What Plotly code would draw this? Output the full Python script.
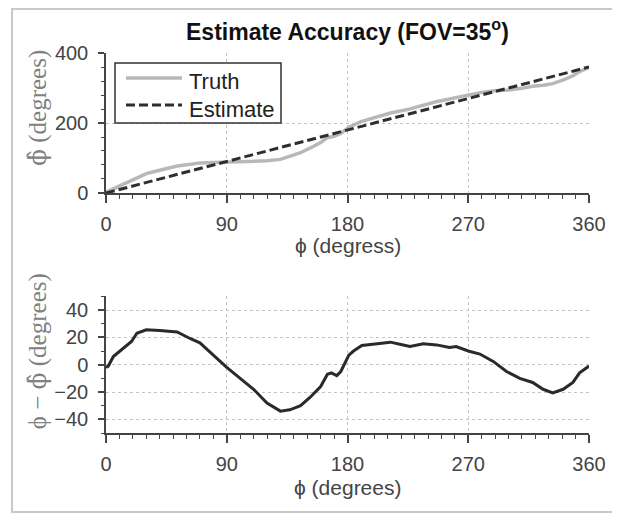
import plotly.graph_objects as go

# ---------------- data ----------------
phi_truth = [0, 5, 13, 20, 30, 40, 53, 63, 70, 80, 90, 100, 110, 120, 130, 137, 145,
             152, 160, 165, 170, 175, 181, 190, 199, 212, 226, 236, 246, 256, 270,
             280, 290, 300, 310, 318, 326, 333, 341, 348, 353, 358, 360]
truth = [2, 11, 25, 39, 55.5, 65, 77, 82, 86, 87, 88, 90, 92, 92, 96, 104, 115,
         128, 144, 158, 162, 170, 188, 204, 214, 228.5, 239.5, 251, 260.5, 268.5, 280,
         287.5, 292, 294, 299, 305, 308, 312.4, 323, 335, 347, 356, 359]

phi_est = [0, 360]
estimate = [0, 360]

phi_err = [0, 1.7, 5.5, 13, 19, 23, 30, 40, 53, 63, 70, 80, 90, 100, 110, 120, 130,
           137, 145, 152, 160, 165, 168, 172, 175, 181, 184.5, 190.7, 199, 212, 219,
           226.6, 236.5, 246.4, 256, 261, 270, 278.7, 288.6, 298.5, 308.4, 318, 325.8,
           333, 340.7, 348, 353, 358, 360]
err = [-2, -1, 6, 12, 17, 23, 25.5, 25, 24, 19, 16, 7, -2, -10, -18, -28, -34,
       -33, -30, -24, -16, -7, -6, -8, -5, 7, 10, 14, 15, 16.5, 15,
       13.3, 15.3, 14.5, 12.6, 13.3, 10, 7.8, 2.4, -5, -10, -13, -18,
       -20.6, -18, -13, -6, -2, -1]

x_ticks = [0, 90, 180, 270, 360]
y1_ticks = [0, 200, 400]
y2_ticks = [-40, -20, 0, 20, 40]

# ---------------- figure ----------------
SANS = "Liberation Sans, Arial, sans-serif"
SERIF = "Liberation Serif, DejaVu Serif, serif"
AX = "#444444"
TRUTH_C = "#b8b8b8"
EST_C = "#2e2e2e"
EST_DASH = "9px,4px"

fig = go.Figure()
fig.add_trace(go.Scatter(x=phi_truth, y=truth, mode="lines", name="Truth",
                         line=dict(color=TRUTH_C, width=3.5),
                         xaxis="x", yaxis="y", showlegend=False))
fig.add_trace(go.Scatter(x=phi_est, y=estimate, mode="lines", name="Estimate",
                         line=dict(color=EST_C, width=3, dash=EST_DASH),
                         xaxis="x", yaxis="y", showlegend=False))
fig.add_trace(go.Scatter(x=phi_err, y=err, mode="lines", name="Error",
                         showlegend=False,
                         line=dict(color="#2a2a2a", width=3),
                         xaxis="x2", yaxis="y2"))


def axis(**kw):
    d = dict(showline=True, linecolor=AX, linewidth=1.5,
             ticks="outside", ticklen=8, tickwidth=1.5, tickcolor=AX,
             showgrid=True, gridcolor="#c4c4c4", griddash="dot", gridwidth=1,
             zeroline=False,
             tickfont=dict(family=SANS, size=20, color=AX))
    d.update(kw)
    return d


xminor = dict(ticks="outside", ticklen=4, tickwidth=1.2, tickcolor=AX,
              tick0=0, dtick=10, showgrid=False)

fig.update_layout(
    width=612, height=506, autosize=False,
    margin=dict(l=98, r=31, t=45, b=81),
    paper_bgcolor="white", plot_bgcolor="white",
    xaxis=axis(domain=[0, 1], range=[0, 360], tickmode="array", tickvals=x_ticks,
               anchor="y", minor=xminor, ticklabelstandoff=4),
    yaxis=axis(domain=[0.6316, 1], range=[0, 400], tickmode="array", tickvals=y1_ticks,
               anchor="x", ticklen=6, ticklabelstandoff=6,
               minor=dict(ticks="outside", ticklen=3, tickwidth=1.2, tickcolor=AX,
                          tick0=0, dtick=40, showgrid=False)),
    xaxis2=axis(domain=[0, 1], range=[0, 360], tickmode="array", tickvals=x_ticks,
                anchor="y2", minor=xminor, ticklabelstandoff=4),
    yaxis2=axis(domain=[0, 0.3595], range=[-50, 50], tickmode="array", tickvals=y2_ticks,
                anchor="x2", ticklen=6, ticklabelstandoff=6,
                minor=dict(ticks="outside", ticklen=3, tickwidth=1.2, tickcolor=AX,
                           tick0=0, dtick=10, showgrid=False)),
    showlegend=False,
)

HAT = '<span style="font-family:DejaVu Serif">ϕ\u0302</span>'
annotations = [
    dict(text="<b>Estimate Accuracy (FOV=35<sup>o</sup>)</b>", x=0.501, y=1.0605,
         xref="paper", yref="paper", showarrow=False, xanchor="center", yanchor="middle",
         font=dict(family=SANS, size=23, color="#111111")),
    dict(text="ϕ (degress)", x=0.5, y=0.4947, xref="paper", yref="paper",
         showarrow=False, xanchor="center", yanchor="middle",
         font=dict(family=SANS, size=21, color=AX)),
    dict(text="ϕ (degrees)", x=0.5, y=-0.1447, xref="paper", yref="paper",
         showarrow=False, xanchor="center", yanchor="middle",
         font=dict(family=SANS, size=21, color=AX)),
    dict(text=HAT + " (degrees)", x=-0.1429, y=0.855, xref="paper", yref="paper",
         showarrow=False, xanchor="center", yanchor="middle", textangle=-90,
         font=dict(family=SERIF, size=25, color="#808080")),
    dict(text="ϕ − " + HAT + " (degrees)", x=-0.1429, y=0.215, xref="paper", yref="paper",
         showarrow=False, xanchor="center", yanchor="middle", textangle=-90,
         font=dict(family=SERIF, size=25, color="#808080")),
    # legend labels
    dict(text="Truth", x=0.1677, y=0.9263, xref="paper", yref="paper",
         showarrow=False, xanchor="left", yanchor="middle",
         font=dict(family=SANS, size=22, color="#222222")),
    dict(text="Estimate", x=0.1677, y=0.8526, xref="paper", yref="paper",
         showarrow=False, xanchor="left", yanchor="middle",
         font=dict(family=SANS, size=22, color="#222222")),
]
fig.update_layout(annotations=annotations)

# outer frame
fig.add_shape(type="rect", xref="paper", yref="paper",
              x0=-0.1946, x1=1.058, y0=-0.2079, y1=1.1158,
              line=dict(color="#c8c8c8", width=2), fillcolor="rgba(0,0,0,0)",
              layer="below")
# legend box and samples
fig.add_shape(type="rect", xref="paper", yref="paper",
              x0=0.01863, x1=0.3623, y0=0.8158, y1=0.9737,
              line=dict(color="#333333", width=1.5), fillcolor="white", layer="above")
fig.add_shape(type="line", xref="paper", yref="paper",
              x0=0.04141, x1=0.15735, y0=0.93421, y1=0.93421,
              line=dict(color=TRUTH_C, width=3.5), layer="above")
fig.add_shape(type="line", xref="paper", yref="paper",
              x0=0.04141, x1=0.15735, y0=0.86316, y1=0.86316,
              line=dict(color=EST_C, width=3, dash=EST_DASH), layer="above")

fig.write_html("out.html")
